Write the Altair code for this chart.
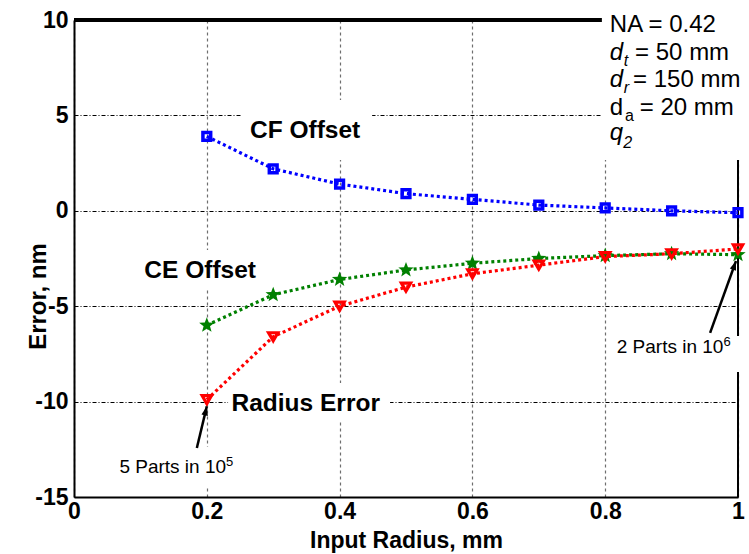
import math
import altair as alt
import pandas as pd

# ---------------- data ----------------
radius = [0.2, 0.3, 0.4, 0.5, 0.6, 0.7, 0.8, 0.9, 1.0]
cf_offset = [3.9, 2.2, 1.4, 0.9, 0.6, 0.3, 0.15, 0.0, -0.1]
ce_offset = [-6.0, -4.4, -3.6, -3.1, -2.75, -2.5, -2.35, -2.25, -2.3]
radius_error = [-9.9, -6.6, -5.0, -4.0, -3.3, -2.85, -2.4, -2.25, -2.0]

x_ticks = [0, 0.2, 0.4, 0.6, 0.8, 1]
y_ticks = [-15, -10, -5, 0, 5, 10]
x_domain = [0, 1]
y_domain = [-15, 10]

# annotation texts (data coordinates)
label_text = ["CF Offset", "CE Offset", "Radius Error"]
label_x = [0.348, 0.19, 0.349]
label_y = [4.18, -3.18, -10.13]

param_text = ["NA = 0.42", "= 50 mm", "= 150 mm", "d", "= 20 mm"]
param_x = [0.807, 0.845, 0.842, 0.807, 0.852]
param_y = [9.37, 7.90, 6.49, 5.02, 5.02]

param_it_text = ["d", "d", "q"]
param_it_x = [0.807, 0.807, 0.807]
param_it_y = [7.90, 6.49, 3.71]

sub_it_text = ["t", "r", "2"]
sub_it_x = [0.828, 0.828, 0.827]
sub_it_y = [7.59, 6.17, 3.29]

sub_text = ["a"]
sub_x = [0.830]
sub_y = [4.71]

note_text = ["5 Parts in 10", "2 Parts in 10"]
note_x = [0.229, 0.978]
note_y = [-13.74, -7.45]
sup_text = ["5", "6"]
sup_y = [-13.36, -7.07]

# white boxes behind texts: x, x2, y, y2
box_x = [0.795, 0.253, 0.095, 0.232, 0.054, 0.815]
box_x2 = [1.03, 0.449, 0.276, 0.476, 0.258, 1.03]
box_y = [11.2, 5.81, -2.05, -9.03, -12.38, -6.56]
box_y2 = [2.66, 2.66, -4.15, -11.07, -14.48, -8.45]

# arrows: tail -> tip
arrow_x = [0.185, 0.958]
arrow_y = [-12.43, -6.40]
arrow_x2 = [0.2, 0.997]
arrow_y2 = [-10.25, -2.63]

W, H = 664, 477
FONT = "Liberation Sans, Arial, Helvetica, sans-serif"

# five-pointed star symbol path
pts = []
for k in range(10):
    r = 1.0 if k % 2 == 0 else 0.42
    a = math.radians(-90 + 36 * k)
    pts.append(f"{r * math.cos(a):.3f},{r * math.sin(a):.3f}")
STAR = "M" + "L".join(pts) + "Z"

X = alt.X("x:Q", scale=alt.Scale(domain=x_domain, nice=False, zero=False),
          axis=alt.Axis(values=x_ticks, labelExpr="'' + datum.value", title="Input Radius, mm",
                        grid=True, gridColor="#6e6e6e", gridDash=[3, 3], gridWidth=1.2,
                        domain=True, domainColor="black", domainWidth=2, ticks=False,
                        labelFont=FONT, labelFontSize=23, labelFontWeight="bold",
                        labelColor="black", labelPadding=3, labelFlush=False,
                        titleFont=FONT, titleFontSize=23, titleFontWeight="bold",
                        titleColor="black", titleY=50, titleBaseline="alphabetic"))
Y = alt.Y("y:Q", scale=alt.Scale(domain=y_domain, nice=False, zero=False),
          axis=alt.Axis(values=y_ticks, labelExpr="'' + datum.value", title="Error, nm",
                        grid=True, gridColor="black", gridDash=[4, 2, 1, 2], gridWidth=1,
                        domain=True, domainColor="black", domainWidth=2, ticks=False,
                        labelFont=FONT, labelFontSize=23, labelFontWeight="bold",
                        labelColor="black", labelPadding=6, labelFlush=False,
                        titleFont=FONT, titleFontSize=24, titleFontWeight="bold",
                        titleColor="black", titleAngle=270, titleX=-29, titleY=276,
                        titleAlign="center", titleBaseline="alphabetic"))

layers = []

# right spine (partly hidden by text boxes, as in the original)
right_df = pd.DataFrame({"x": [x_domain[1]], "y": [y_domain[0]], "y2": [y_domain[1]]})
layers.append(alt.Chart(right_df).mark_rule(color="black", strokeWidth=2).encode(
    x=X, y=Y, y2="y2:Q"))

# white boxes
box_df = pd.DataFrame({"x": box_x, "x2": box_x2, "y": box_y, "y2": box_y2})
layers.append(alt.Chart(box_df).mark_rect(color="white", clip=False).encode(
    x=X, y=Y, x2="x2:Q", y2="y2:Q"))

# top spine, stopping where the parameter box starts
top_df = pd.DataFrame({"x": [float(x_domain[0])], "x2": [box_x[0]], "y": [float(y_domain[1])]})
layers.append(alt.Chart(top_df).mark_rule(color="black", strokeWidth=4).encode(
    x=X, x2="x2:Q", y=Y))

series = [
    (cf_offset, "#0000ff", "square", False, 60, 3.5),
    (ce_offset, "#008000", STAR, True, 260, 1),
    (radius_error, "#ff0000", "triangle-down", False, 85, 3.2),
]
for vals, col, shape, filled, size, sw in series:
    df = pd.DataFrame({"x": radius, "y": vals})
    layers.append(alt.Chart(df).mark_line(color=col, strokeWidth=3.2, strokeDash=[3, 3]).encode(x=X, y=Y))
    layers.append(alt.Chart(df).mark_point(color=col, shape=shape, filled=filled, size=size,
                                           strokeWidth=sw, opacity=1).encode(x=X, y=Y))

# arrows
px_x = W / (x_domain[1] - x_domain[0])
px_y = H / (y_domain[1] - y_domain[0])
angles = []
for x1, y1, x2, y2 in zip(arrow_x, arrow_y, arrow_x2, arrow_y2):
    dxp = (x2 - x1) * px_x
    dyp = (y2 - y1) * px_y
    angles.append(math.degrees(math.atan2(dxp, dyp)) % 360)
arrow_df = pd.DataFrame({"x": arrow_x, "y": arrow_y, "x2": arrow_x2, "y2": arrow_y2, "ang": angles})
layers.append(alt.Chart(arrow_df).mark_rule(color="black", strokeWidth=2.5).encode(
    x=X, y=Y, x2="x2:Q", y2="y2:Q"))
head_df = pd.DataFrame({"x": arrow_x2, "y": arrow_y2, "ang": angles})
layers.append(alt.Chart(head_df).mark_point(
    shape="M0,0L-0.5,1.4L0.5,1.4Z", filled=True, color="black", size=170, opacity=1).encode(
    x=X, y=Y, angle=alt.Angle("ang:Q", scale=None)))


def text_layer(texts, xs, ys, **kw):
    df = pd.DataFrame({"x": xs, "y": ys, "t": texts})
    return alt.Chart(df).mark_text(font=FONT, color="black", **kw).encode(x=X, y=Y, text="t:N")


layers.append(text_layer(label_text, label_x, label_y, fontSize=24.5, fontWeight="bold",
                         align="center", baseline="middle"))
layers.append(text_layer(param_text, param_x, param_y, fontSize=24, align="left", baseline="alphabetic"))
layers.append(text_layer(param_it_text, param_it_x, param_it_y, fontSize=24, fontStyle="italic",
                         align="left", baseline="alphabetic"))
layers.append(text_layer(sub_it_text, sub_it_x, sub_it_y, fontSize=16, fontStyle="italic",
                         align="left", baseline="alphabetic"))
layers.append(text_layer(sub_text, sub_x, sub_y, fontSize=16, align="left", baseline="alphabetic"))
layers.append(text_layer(note_text, note_x, note_y, fontSize=19, align="right", baseline="alphabetic"))
layers.append(text_layer(sup_text, note_x, sup_y, fontSize=13, align="left", baseline="alphabetic"))

chart = alt.layer(*layers).properties(
    width=W, height=H, autosize=alt.AutoSizeParams(type="none"),
    padding={"left": 74, "top": 20, "right": 11, "bottom": 57},
    background="white",
).configure_view(stroke=None)

chart.save("out.html", embed_options={"renderer": "svg", "actions": False})
